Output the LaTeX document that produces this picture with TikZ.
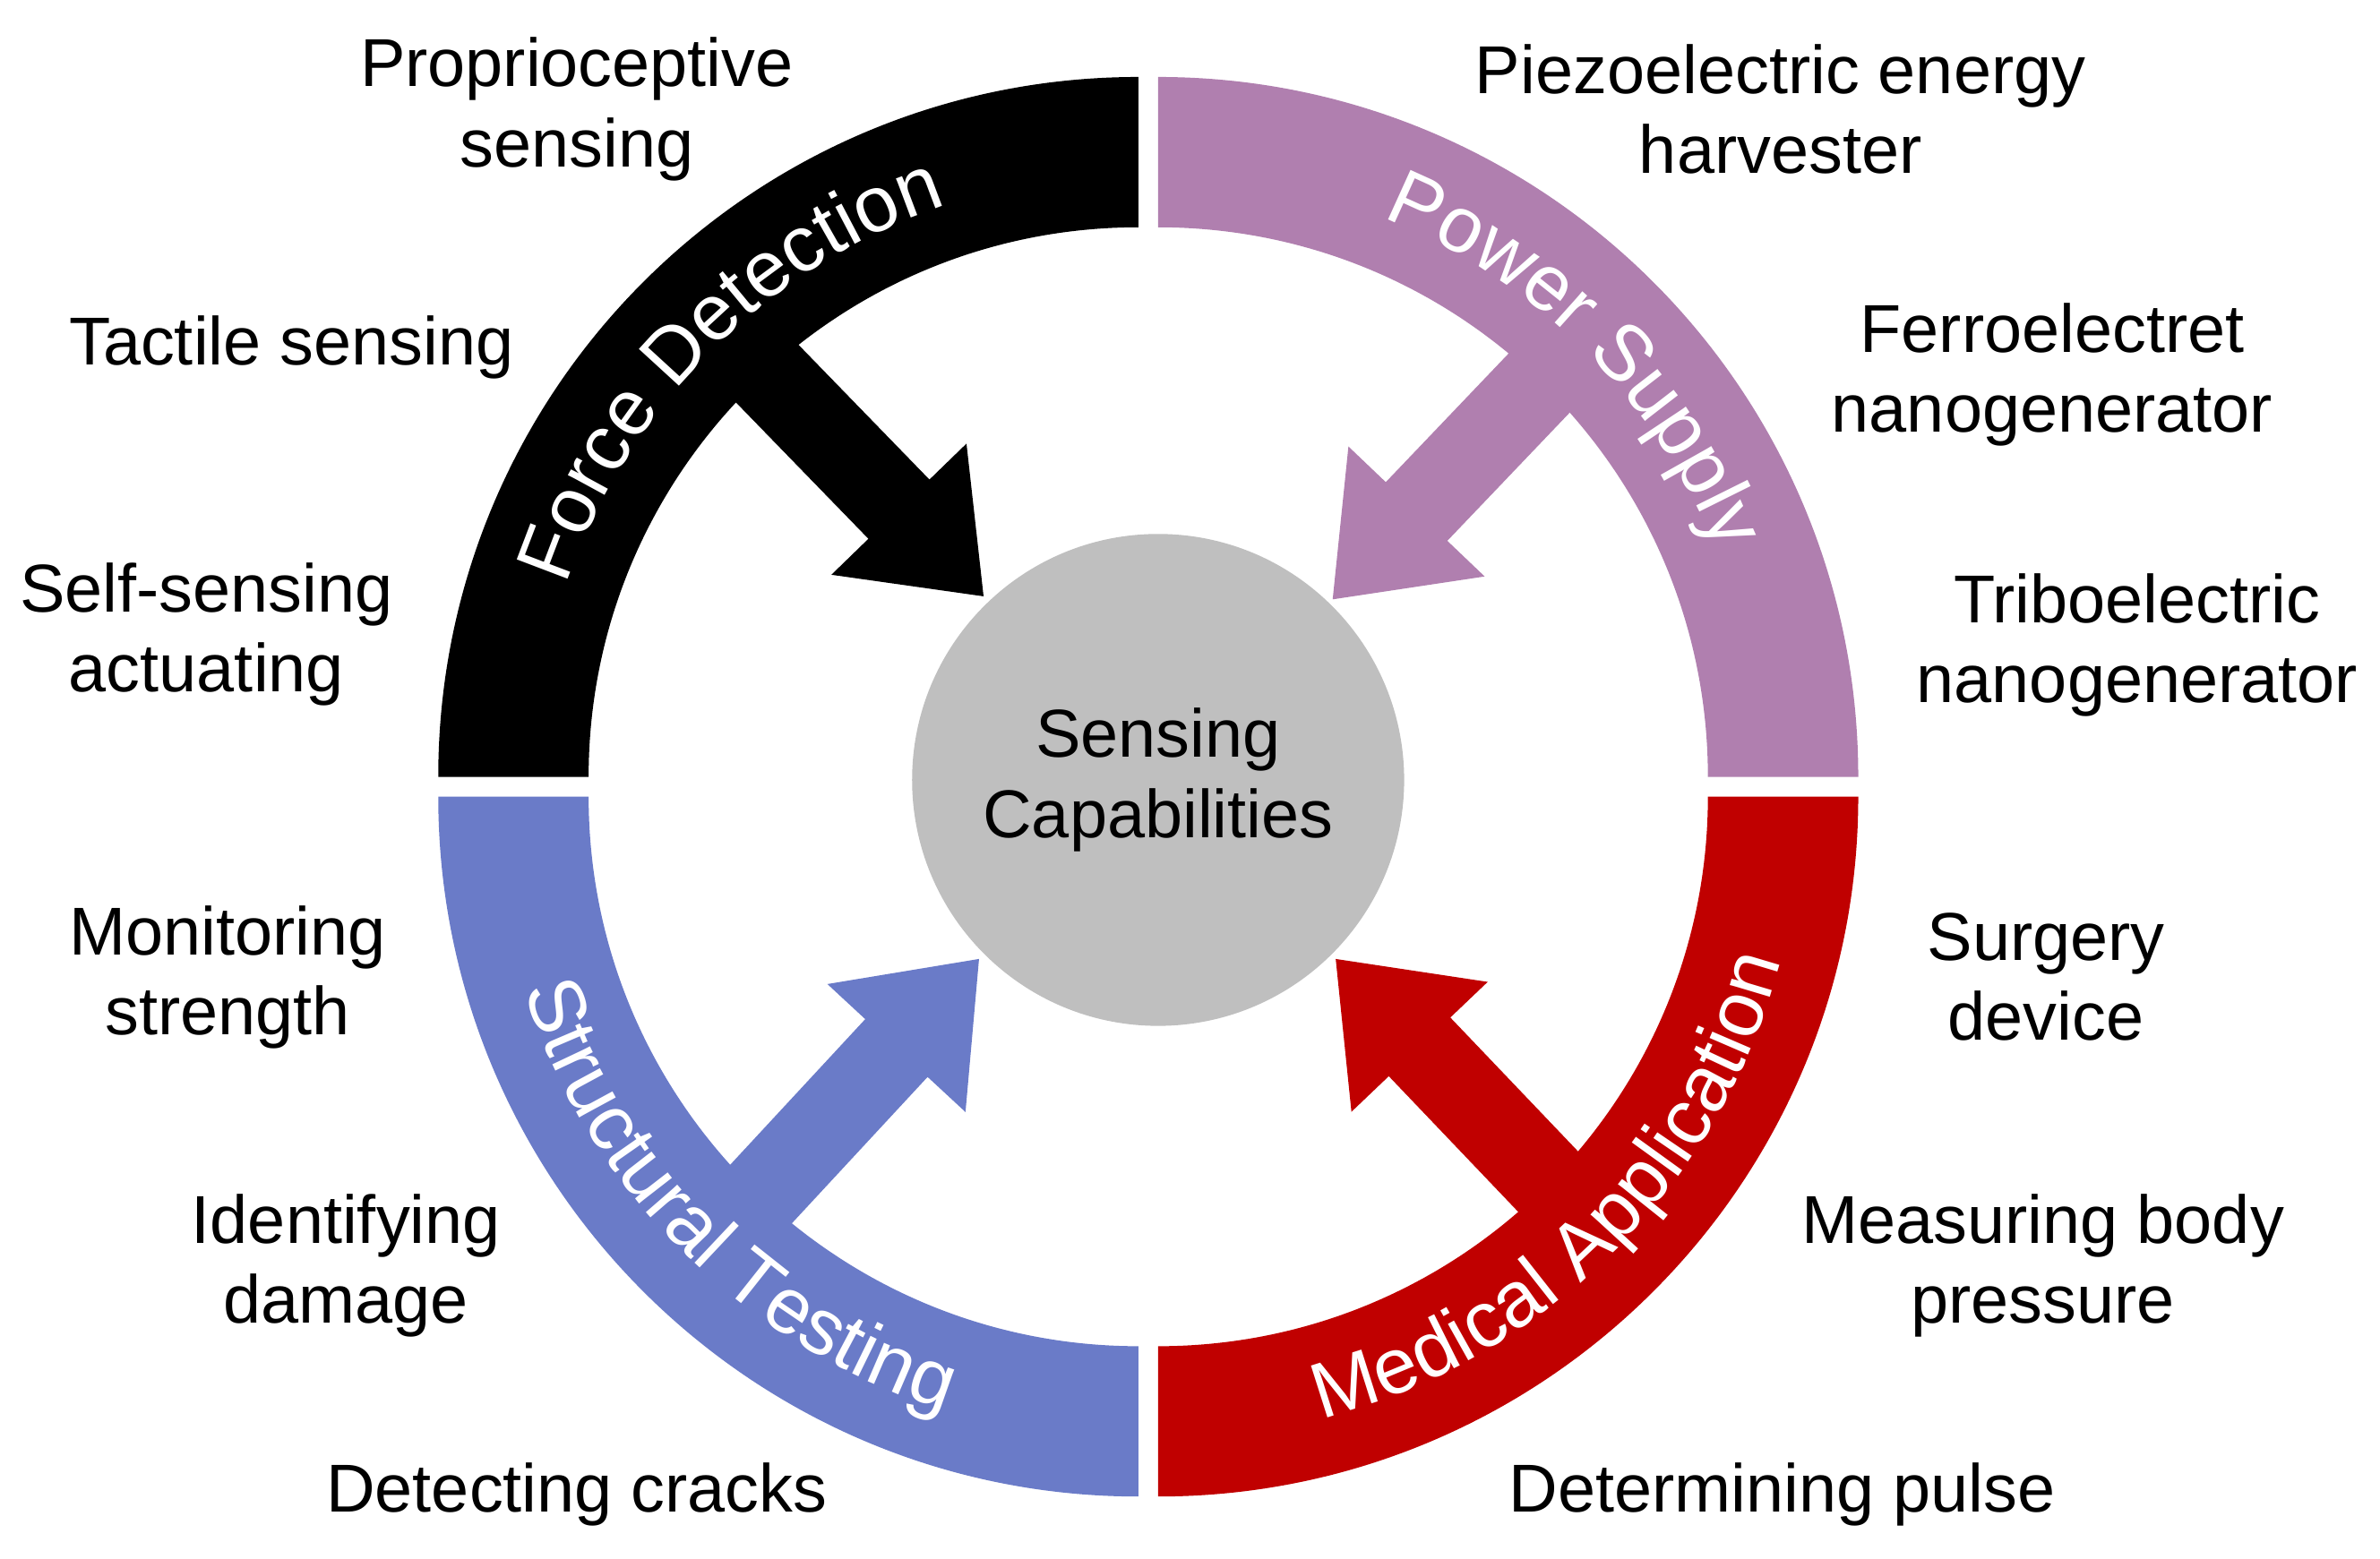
\documentclass[tikz,border=0pt]{standalone}
\usepackage{fontspec}
\setmainfont{Liberation Sans}
\usetikzlibrary{calc,decorations.text}
\definecolor{cpur}{HTML}{B07FAF}
\definecolor{cblu}{HTML}{6A7BC8}
\definecolor{cred}{HTML}{C00000}
\definecolor{cgry}{HTML}{BFBFBF}
\newcommand\lblfont{\fontsize{12.7}{15}\selectfont}
\newcommand\ringfont{\fontsize{14.8}{18}\selectfont}
\newcommand\quadfill[4]{% color, center, a1, a2
  \fill[#1] ($(#2)+(#3:4.61cm)$) arc[start angle=#3,end angle=#4,radius=4.61cm]
    -- ($(#2)+(#4:3.62cm)$) arc[start angle=#4,end angle=#3,radius=3.62cm] -- cycle;}
\newcommand\blockarr[3]{% color, tail, tip
  \coordinate (h) at ($(#3)!0.8cm!(#2)$);
  \fill[#1] ($(#2)!0.28cm!90:(#3)$) -- ($(h)!0.28cm!90:(#3)$) -- ($(h)!0.62cm!90:(#3)$)
    -- (#3) -- ($(h)!0.62cm!-90:(#3)$) -- ($(h)!0.28cm!-90:(#3)$) -- ($(#2)!0.28cm!-90:(#3)$) -- cycle;}
\tikzset{lbl/.style={font=\lblfont,align=center,text=black}}
\begin{document}
\begin{tikzpicture}[x=0.01cm,y=0.01cm]
\useasboundingbox (0,0) rectangle (1568,1027);
\coordinate (TL) at (750,515);
\coordinate (TR) at (763,515);
\coordinate (BL) at (750,502);
\coordinate (BR) at (763,502);
\coordinate (CC) at (763,513);
% arrows
\coordinate (t1) at (480,807); \coordinate (p1) at (648,634);
\coordinate (t2) at (1045,807); \coordinate (p2) at (878,632);
\coordinate (t3) at (480,217); \coordinate (p3) at (645,395);
\coordinate (t4) at (1045,222); \coordinate (p4) at (880,395);
\blockarr{black}{t1}{p1}
\blockarr{cpur}{t2}{p2}
\blockarr{cblu}{t3}{p3}
\blockarr{cred}{t4}{p4}
% ring
\quadfill{black}{TL}{180}{90}
\quadfill{cpur}{TR}{90}{0}
\quadfill{cblu}{BL}{180}{270}
\quadfill{cred}{BR}{270}{360}
\path[decorate,decoration={text along path,text align=center,text color=white,text={|\ringfont|Force Detection}}]
  ($(TL)+(180:3.97cm)$) arc[start angle=180,end angle=90,radius=3.97cm];
\path[decorate,decoration={text along path,text align=center,text color=white,text={|\ringfont|Power Supply}}]
  ($(TR)+(90:3.97cm)$) arc[start angle=90,end angle=0,radius=3.97cm];
\path[decorate,decoration={text along path,text align=center,text color=white,text={|\ringfont|Structural Testing}}]
  ($(BL)+(180:4.24cm)$) arc[start angle=180,end angle=270,radius=4.24cm];
\path[decorate,decoration={text along path,text align=center,text color=white,text={|\ringfont|Medical Application}}]
  ($(BR)+(270:4.24cm)$) arc[start angle=270,end angle=360,radius=4.24cm];
% center
\node[circle,fill=cgry,minimum size=3.24cm,font=\lblfont,align=center] (c) at (CC) {Sensing\\Capabilities};
% labels
\node[lbl] (l1) at (380,955) {Proprioceptive\\sensing};
\node[lbl] (l2) at (192,798) {Tactile sensing};
\node[lbl] (l3) at (136,609) {Self-sensing\\actuating};
\node[lbl] (l4) at (1173,955) {Piezoelectric energy\\harvester};
\node[lbl] (l5) at (1352,780) {Ferroelectret\\nanogenerator};
\node[lbl] (l6) at (1408,602) {Triboelectric\\nanogenerator};
\node[lbl] (l7) at (150,383) {Monitoring\\strength};
\node[lbl] (l8) at (228,193) {Identifying\\damage};
\node[lbl] (l9) at (380,42) {Detecting cracks};
\node[lbl] (l10) at (1348,383) {Surgery\\device};
\node[lbl] (l11) at (1346,193) {Measuring body\\pressure};
\node[lbl] (l12) at (1174,42) {Determining pulse};
\end{tikzpicture}
\end{document}
